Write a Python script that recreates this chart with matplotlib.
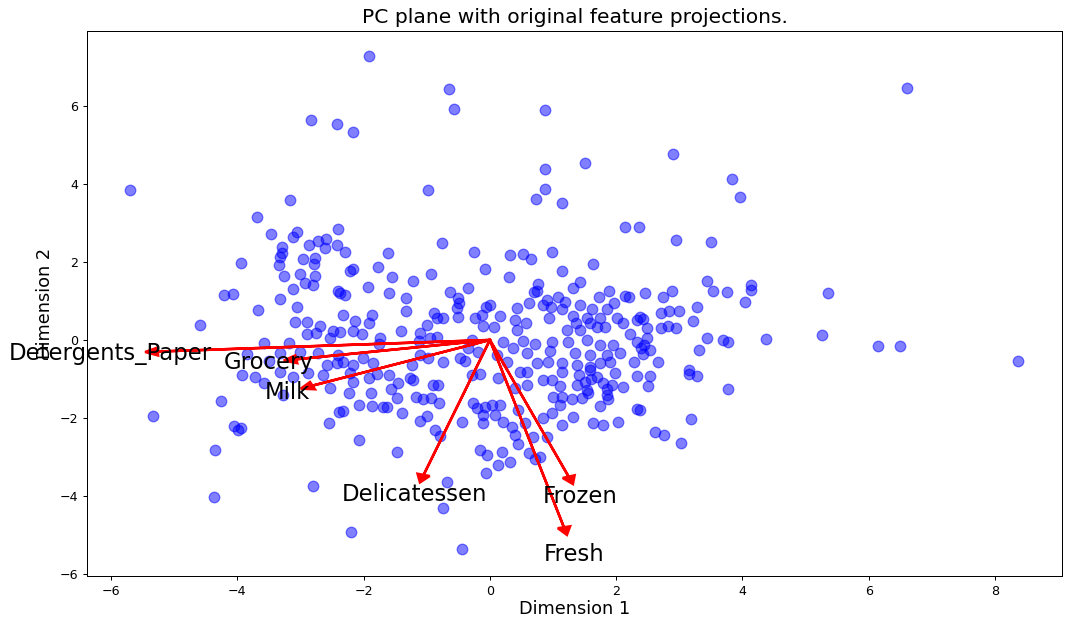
import numpy as np
import matplotlib
matplotlib.use("Agg")
import matplotlib.pyplot as plt

# Feature loadings on the first two principal components (read from the arrows)
features = ["Fresh", "Milk", "Grocery", "Frozen", "Detergents_Paper", "Delicatessen"]
pc1_loadings = [0.1675, -0.4014, -0.4381, 0.1782, -0.7514, -0.1499]
pc2_loadings = [-0.6859, -0.1672, -0.0707, -0.5005, -0.0424, -0.4941]

# Reduced data points (Dimension 1, Dimension 2)
points = [
    (-5.70, 3.85), (-5.34, -1.95), (-4.59, 0.38), (-4.37, -4.03), (-4.36, -2.82), (-4.26, -1.56),
    (-4.21, 1.15), (-4.07, 1.18), (-4.05, -2.2), (-3.99, -2.3), (-3.94, -2.26), (-3.94, 1.97),
    (-3.93, -0.9), (-3.69, 3.15), (-3.47, 2.72), (-3.17, 3.59), (-2.80, -3.74), (-2.83, 5.64),
    (-2.42, 5.54), (-2.17, 5.33), (-1.92, 7.28), (-2.20, -4.92), (-0.98, 3.85), (-0.65, 6.44),
    (-0.57, 5.92), (-0.44, -5.36), (-0.74, -4.3), (0.87, 5.90), (0.87, 4.38), (0.87, 3.87),
    (0.73, 3.62), (1.14, 3.51), (1.50, 4.54), (2.90, 4.77), (6.60, 6.46), (3.83, 4.13), (3.96, 3.67),
    (2.95, 2.56), (3.50, 2.51), (2.14, 2.9), (2.36, 2.9), (4.04, 0.97), (4.13, 1.41), (4.13, 1.28),
    (4.37, 0.03), (5.26, 0.13), (5.35, 1.21), (6.15, -0.15), (6.49, -0.15), (8.36, -0.54),
    (3.77, -1.26), (3.18, -2.03), (3.03, -2.64), (2.61, -2.36), (2.76, -2.44),
    # upper-left cluster
    (-3.06, 2.77), (-3.12, 2.64), (-3.29, 2.38), (-3.29, 2.23), (-2.87, 2.44), (-2.72, 2.54),
    (-2.6, 2.59), (-2.61, 2.36), (-2.42, 2.44), (-2.41, 2.85),
    (-0.76, 2.49), (-0.25, 2.26), (-1.62, 2.23), (-2.30, 2.26),
    (0.98, 2.26), (0.52, 2.2), (0.32, 2.18), (0.65, 2.08),
    (-3.34, 1.92), (-3.33, 2.13), (-2.96, 2.08), (-2.77, 2.1), (-2.79, 1.95), (-3.26, 1.64),
    (-3.01, 1.69), (-2.77, 1.64), (-2.93, 1.46), (-2.8, 1.41), (-3.12, 1.31), (-3.33, 1.05),
    (-3.67, 0.77), (-3.06, 0.85), (-2.41, 1.26), (-3.09, 0.46), (-2.9, 0.46), (-2.69, 0.36),
    (-2.9, 0.15), (-2.76, 0.18), (-2.53, 0.05), (-2.49, 0.23), (-3.58, -0.08), (-3.18, -0.08),
    (-3.01, -0.31), (-2.72, -0.33), (-3.33, -0.33), (-2.41, -0.38), (-2.58, -0.64), (-2.42, -0.59),
    (-3.85, -0.35), (-3.5, -0.55),
    # centre-left
    (-2.17, 1.82), (-2.22, 1.78), (-1.77, 1.87), (-1.55, 1.62), (-1.22, 1.51), (-0.93, 1.69),
    (-0.08, 1.82), (-1.93, 1.36), (-2.3, 1.15), (-2.38, 1.2), (-1.6, 1.21), (-1.33, 1.08),
    (-0.63, 1.23), (-0.35, 1.33), (-0.51, 1.08), (-0.49, 0.95), (-0.52, 0.82), (-0.51, 0.59),
    (-1.33, 0.74), (-0.89, 0.69), (-0.84, 0.56), (-0.74, 0.56), (-0.06, 0.85), (-0.13, 0.64),
    (-0.24, 0.56), (-0.11, 0.36), (-2.33, 0.64), (-2.14, 0.49), (-1.87, 0.64), (-1.92, 0.44),
    (-2.17, 0.23), (-2.03, 0.15), (-2.38, 0.2), (-1.41, 0.23), (-1.11, 0.18), (-1.0, 0.38),
    (-0.84, 0.08), (-1.74, 0.05), (-1.76, -0.1), (-1.12, -0.03), (-0.95, 0.05), (-0.29, 0.0),
    (-0.35, -0.2), (-0.19, -0.31), (-1.11, -0.38), (-0.98, -0.46), (-0.74, -0.56), (-0.48, -0.46),
    (-0.4, -0.54), (-2.01, -0.46), (-2.33, -0.56), (-2.17, -0.64), (-1.85, -0.59), (-1.24, -0.64),
    # centre-right
    (1.63, 1.95), (1.14, 1.77), (0.3, 1.62), (0.76, 1.44), (1.43, 1.49), (0.74, 1.26), (0.70, 1.22),
    (1.31, 1.33), (1.88, 1.26), (1.73, 1.1), (2.14, 1.13), (2.2, 1.1), (1.08, 1.1), (0.9, 1.03),
    (0.62, 0.95), (1.43, 0.9), (1.19, 0.97), (1.96, 0.95), (0.84, 0.9), (0.97, 0.85), (1.14, 0.79),
    (1.62, 0.79), (0.43, 0.82), (1.85, 0.79), (0.93, 0.56), (1.31, 0.62), (1.54, 0.56), (1.74, 0.56),
    (2.01, 0.56), (0.16, 0.62), (0.4, 0.51), (0.57, 0.44), (0.06, 0.33), (1.36, 0.44), (1.58, 0.44),
    (1.82, 0.33), (2.11, 0.44), (0.43, 0.26), (1.22, 0.26), (1.43, 0.26), (1.69, 0.33), (2.22, 0.15),
    (2.33, 0.51), (0.21, -0.05), (0.52, -0.03), (0.71, -0.1), (0.98, -0.05), (1.24, -0.05),
    (1.54, 0.0), (1.74, -0.13), (1.95, -0.13), (2.33, -0.05), (0.36, -0.2), (0.59, -0.33),
    (0.95, -0.28), (1.35, -0.33), (1.58, -0.38), (1.85, -0.38), (2.06, -0.33), (0.11, -0.38),
    (0.27, -0.56), (0.74, -0.59), (0.92, -0.56), (1.14, -0.59), (1.38, -0.64), (1.74, -0.59),
    (1.9, -0.56), (2.28, -0.56), (1.58, -0.69), (0.0, 0.9),
    # right cluster
    (3.44, 1.51), (3.53, 1.26), (3.75, 1.23), (2.45, 1.21), (2.74, 1.1), (2.88, 1.26), (3.28, 0.85),
    (2.71, 0.69), (2.83, 0.74), (2.99, 0.74), (3.21, 0.49), (2.42, 0.54), (2.49, 0.31), (2.71, 0.31),
    (2.82, 0.36), (2.95, 0.31), (3.44, 0.05), (3.69, 0.0), (3.77, -0.05), (2.49, 0.05), (2.44, -0.13),
    (2.53, -0.26), (3.31, -0.26), (2.66, -0.56), (3.15, -0.77), (2.38, 0.6), (2.40, -0.2), (2.42, -0.35),
    # lower-left
    (-3.72, -0.95), (-3.58, -1.1), (-3.33, -0.82), (-3.12, -0.95), (-2.88, -0.85), (-2.64, -0.9),
    (-2.53, -1.23), (-3.28, -1.41), (-2.39, -1.85), (-2.55, -2.13),
    # lower-centre-left
    (-2.22, -0.85), (-2.17, -1.08), (-1.92, -0.97), (-1.79, -0.87), (-1.6, -0.9), (-1.46, -1.1),
    (-1.27, -0.97), (-1.22, -1.02), (-0.9, -1.15), (-0.82, -1.15), (-0.29, -0.9), (-0.16, -0.87),
    (-2.23, -1.36), (-1.88, -1.36), (-1.57, -1.26), (-1.47, -1.49), (-1.17, -1.46), (-1.06, -1.51),
    (-0.93, -1.49), (-0.81, -1.62), (-2.07, -1.67), (-1.87, -1.69), (-1.69, -1.72), (-1.63, -1.72),
    (-2.33, -1.82), (-1.39, -1.87), (-1.11, -2.08), (-1.0, -1.95), (-0.44, -2.1), (-0.27, -1.62),
    (-0.21, -1.74), (-0.08, -1.72), (-0.11, -1.92), (-0.11, -2.13), (-0.87, -2.31), (-0.79, -2.46),
    (-2.07, -2.56), (-1.47, -2.87), (-0.16, -2.82), (-0.05, -2.95), (-0.06, -3.41), (-0.68, -3.64),
    # lower-centre-right
    (0.13, -0.97), (0.48, -0.82), (0.59, -0.82), (0.84, -1.03), (0.98, -1.03), (1.11, -1.18),
    (0.59, -1.15), (0.4, -1.23), (1.14, -0.82), (1.41, -0.9), (1.5, -1.08), (1.54, -1.28),
    (1.38, -1.15), (1.58, -0.77), (1.79, -1.1), (1.93, -1.15), (2.11, -1.2), (1.98, -0.85),
    (2.33, -0.92), (1.0, -1.46), (1.14, -1.46), (1.3, -1.51), (1.46, -1.49), (1.55, -1.36),
    (1.85, -1.41), (1.87, -1.51), (1.74, -1.69), (2.33, -1.77), (1.11, -1.67), (0.16, -1.67),
    (0.03, -1.67), (0.44, -1.79), (0.55, -2.13), (0.08, -1.92), (0.21, -2.1), (0.35, -2.23),
    (0.4, -2.44), (0.44, -2.67), (0.84, -2.0), (0.98, -1.87), (1.14, -2.18), (1.31, -1.97),
    (1.63, -2.13), (1.79, -2.18), (2.03, -2.1), (0.68, -2.49), (0.9, -2.49), (0.19, -2.87),
    (0.32, -3.13), (0.13, -3.21), (0.62, -2.9), (0.79, -3.0), (0.71, -3.05),
    (1.7, -0.95), (1.85, -1.25), (1.6, -1.0),
    # lower-right
    (2.53, -0.92), (2.5, -1.18), (3.15, -0.87), (3.28, -0.92), (2.38, -1.79),
]

dim1 = [p[0] for p in points]
dim2 = [p[1] for p in points]

DPI = 91.0
fig = plt.figure(figsize=(1081 / DPI, 617 / DPI), dpi=DPI)
ax = fig.add_axes([87 / 1081, 1 - 576 / 617, (1062 - 87) / 1081, (576 - 31) / 617])

ax.scatter(dim1, dim2, facecolors='b', edgecolors='b', s=70, alpha=0.5)

arrow_size, text_pos = 7.0, 8.0
for name, v0, v1 in zip(features, pc1_loadings, pc2_loadings):
    ax.arrow(0, 0, arrow_size * v0, arrow_size * v1, head_width=0.2, head_length=0.2,
             linewidth=2, color='red')
    ax.text(v0 * text_pos, v1 * text_pos, name, color='black', ha='center', va='center',
            fontsize=18)

ax.set_xlim(-6.38, 9.06)
ax.set_ylim(-6.05, 7.92)
ax.set_xlabel("Dimension 1", fontsize=14, labelpad=2)
ax.set_ylabel("Dimension 2", fontsize=14)
ax.set_title("PC plane with original feature projections.", fontsize=16)

fig.savefig("out.png", dpi=DPI)
